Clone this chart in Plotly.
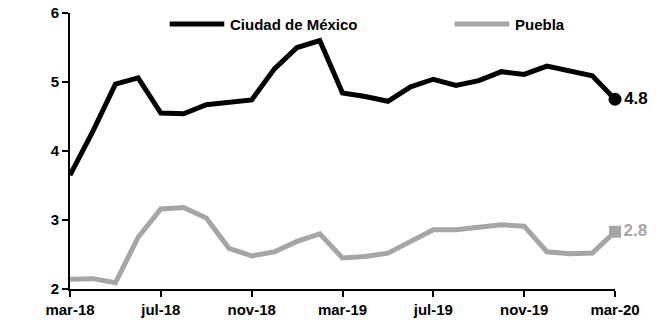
import plotly.graph_objects as go

# Monthly series, mar-18 .. mar-20
months = ["mar-18", "abr-18", "may-18", "jun-18", "jul-18", "ago-18", "sep-18", "oct-18",
          "nov-18", "dic-18", "ene-19", "feb-19", "mar-19", "abr-19", "may-19", "jun-19",
          "jul-19", "ago-19", "sep-19", "oct-19", "nov-19", "dic-19", "ene-20", "feb-20",
          "mar-20"]
cdmx = [3.65, 4.28, 4.97, 5.06, 4.55, 4.54, 4.67, 4.71, 4.74, 5.19, 5.50, 5.60, 4.84,
        4.79, 4.72, 4.93, 5.04, 4.95, 5.02, 5.15, 5.11, 5.23, 5.16, 5.09, 4.75]
puebla = [2.14, 2.15, 2.09, 2.75, 3.16, 3.18, 3.03, 2.59, 2.48, 2.54, 2.69, 2.80, 2.45,
          2.47, 2.52, 2.68, 2.86, 2.86, 2.90, 2.93, 2.91, 2.54, 2.51, 2.52, 2.83]
tick_labels = ["mar-18", "jul-18", "nov-18", "mar-19", "jul-19", "nov-19", "mar-20"]
tick_idx = [months.index(t) for t in tick_labels]

BLACK = "#000000"
GRAY = "#a6a6a6"
FONT = "Liberation Sans, Arial, sans-serif"

x = list(range(len(months)))
fig = go.Figure()

fig.add_trace(go.Scatter(x=x, y=cdmx, mode="lines", line=dict(color=BLACK, width=5),
                         name="Ciudad de México", showlegend=False, cliponaxis=False))
fig.add_trace(go.Scatter(x=x, y=puebla, mode="lines", line=dict(color=GRAY, width=5),
                         name="Puebla", showlegend=False, cliponaxis=False))

# Last-value markers with labels
fig.add_trace(go.Scatter(x=[x[-1]], y=[cdmx[-1]], mode="markers+text",
                         marker=dict(symbol="circle", size=13, color=BLACK),
                         text=[f"{cdmx[-1]:.1f}"], textposition="middle right",
                         textfont=dict(family=FONT, size=17, color=BLACK, weight="bold"),
                         showlegend=False, cliponaxis=False))
fig.add_trace(go.Scatter(x=[x[-1]], y=[puebla[-1]], mode="markers+text",
                         marker=dict(symbol="square", size=12, color=GRAY),
                         text=[f"{puebla[-1]:.1f}"], textposition="middle right",
                         textfont=dict(family=FONT, size=17, color=GRAY, weight="bold"),
                         showlegend=False, cliponaxis=False))

# Legend drawn as line samples with labels along the top
legend_items = [("Ciudad de México", BLACK, 0.183), ("Puebla", GRAY, 0.706)]
for label, color, x0 in legend_items:
    fig.add_shape(type="line", xref="paper", yref="paper", x0=x0, x1=x0 + 0.1,
                  y0=0.96, y1=0.96, line=dict(color=color, width=5))
    fig.add_annotation(xref="paper", yref="paper", x=x0 + 0.106, y=0.96, text=label,
                       showarrow=False, xanchor="left", yanchor="middle",
                       font=dict(family=FONT, size=15, color=BLACK, weight="bold"))

fig.update_layout(
    width=661, height=327,
    margin=dict(l=70, r=46, t=13, b=38),
    plot_bgcolor="white", paper_bgcolor="white",
    font=dict(family=FONT, size=15, color=BLACK, weight="bold"),
    xaxis=dict(range=[0, 24], tickvals=tick_idx, ticktext=tick_labels, automargin=False,
               showline=True, linecolor=BLACK, linewidth=2, ticks="outside",
               ticklen=6, tickwidth=2, tickcolor=BLACK, showgrid=False, zeroline=False,
               tickfont=dict(family=FONT, size=15, color=BLACK, weight="bold")),
    yaxis=dict(range=[2, 6], tickvals=[2, 3, 4, 5, 6], automargin=False,
               showline=True, linecolor=BLACK, linewidth=2, ticks="outside",
               ticklen=6, tickwidth=2, tickcolor=BLACK, showgrid=False, zeroline=False,
               tickfont=dict(family=FONT, size=15, color=BLACK, weight="bold")),
)

fig.write_html("out.html")
